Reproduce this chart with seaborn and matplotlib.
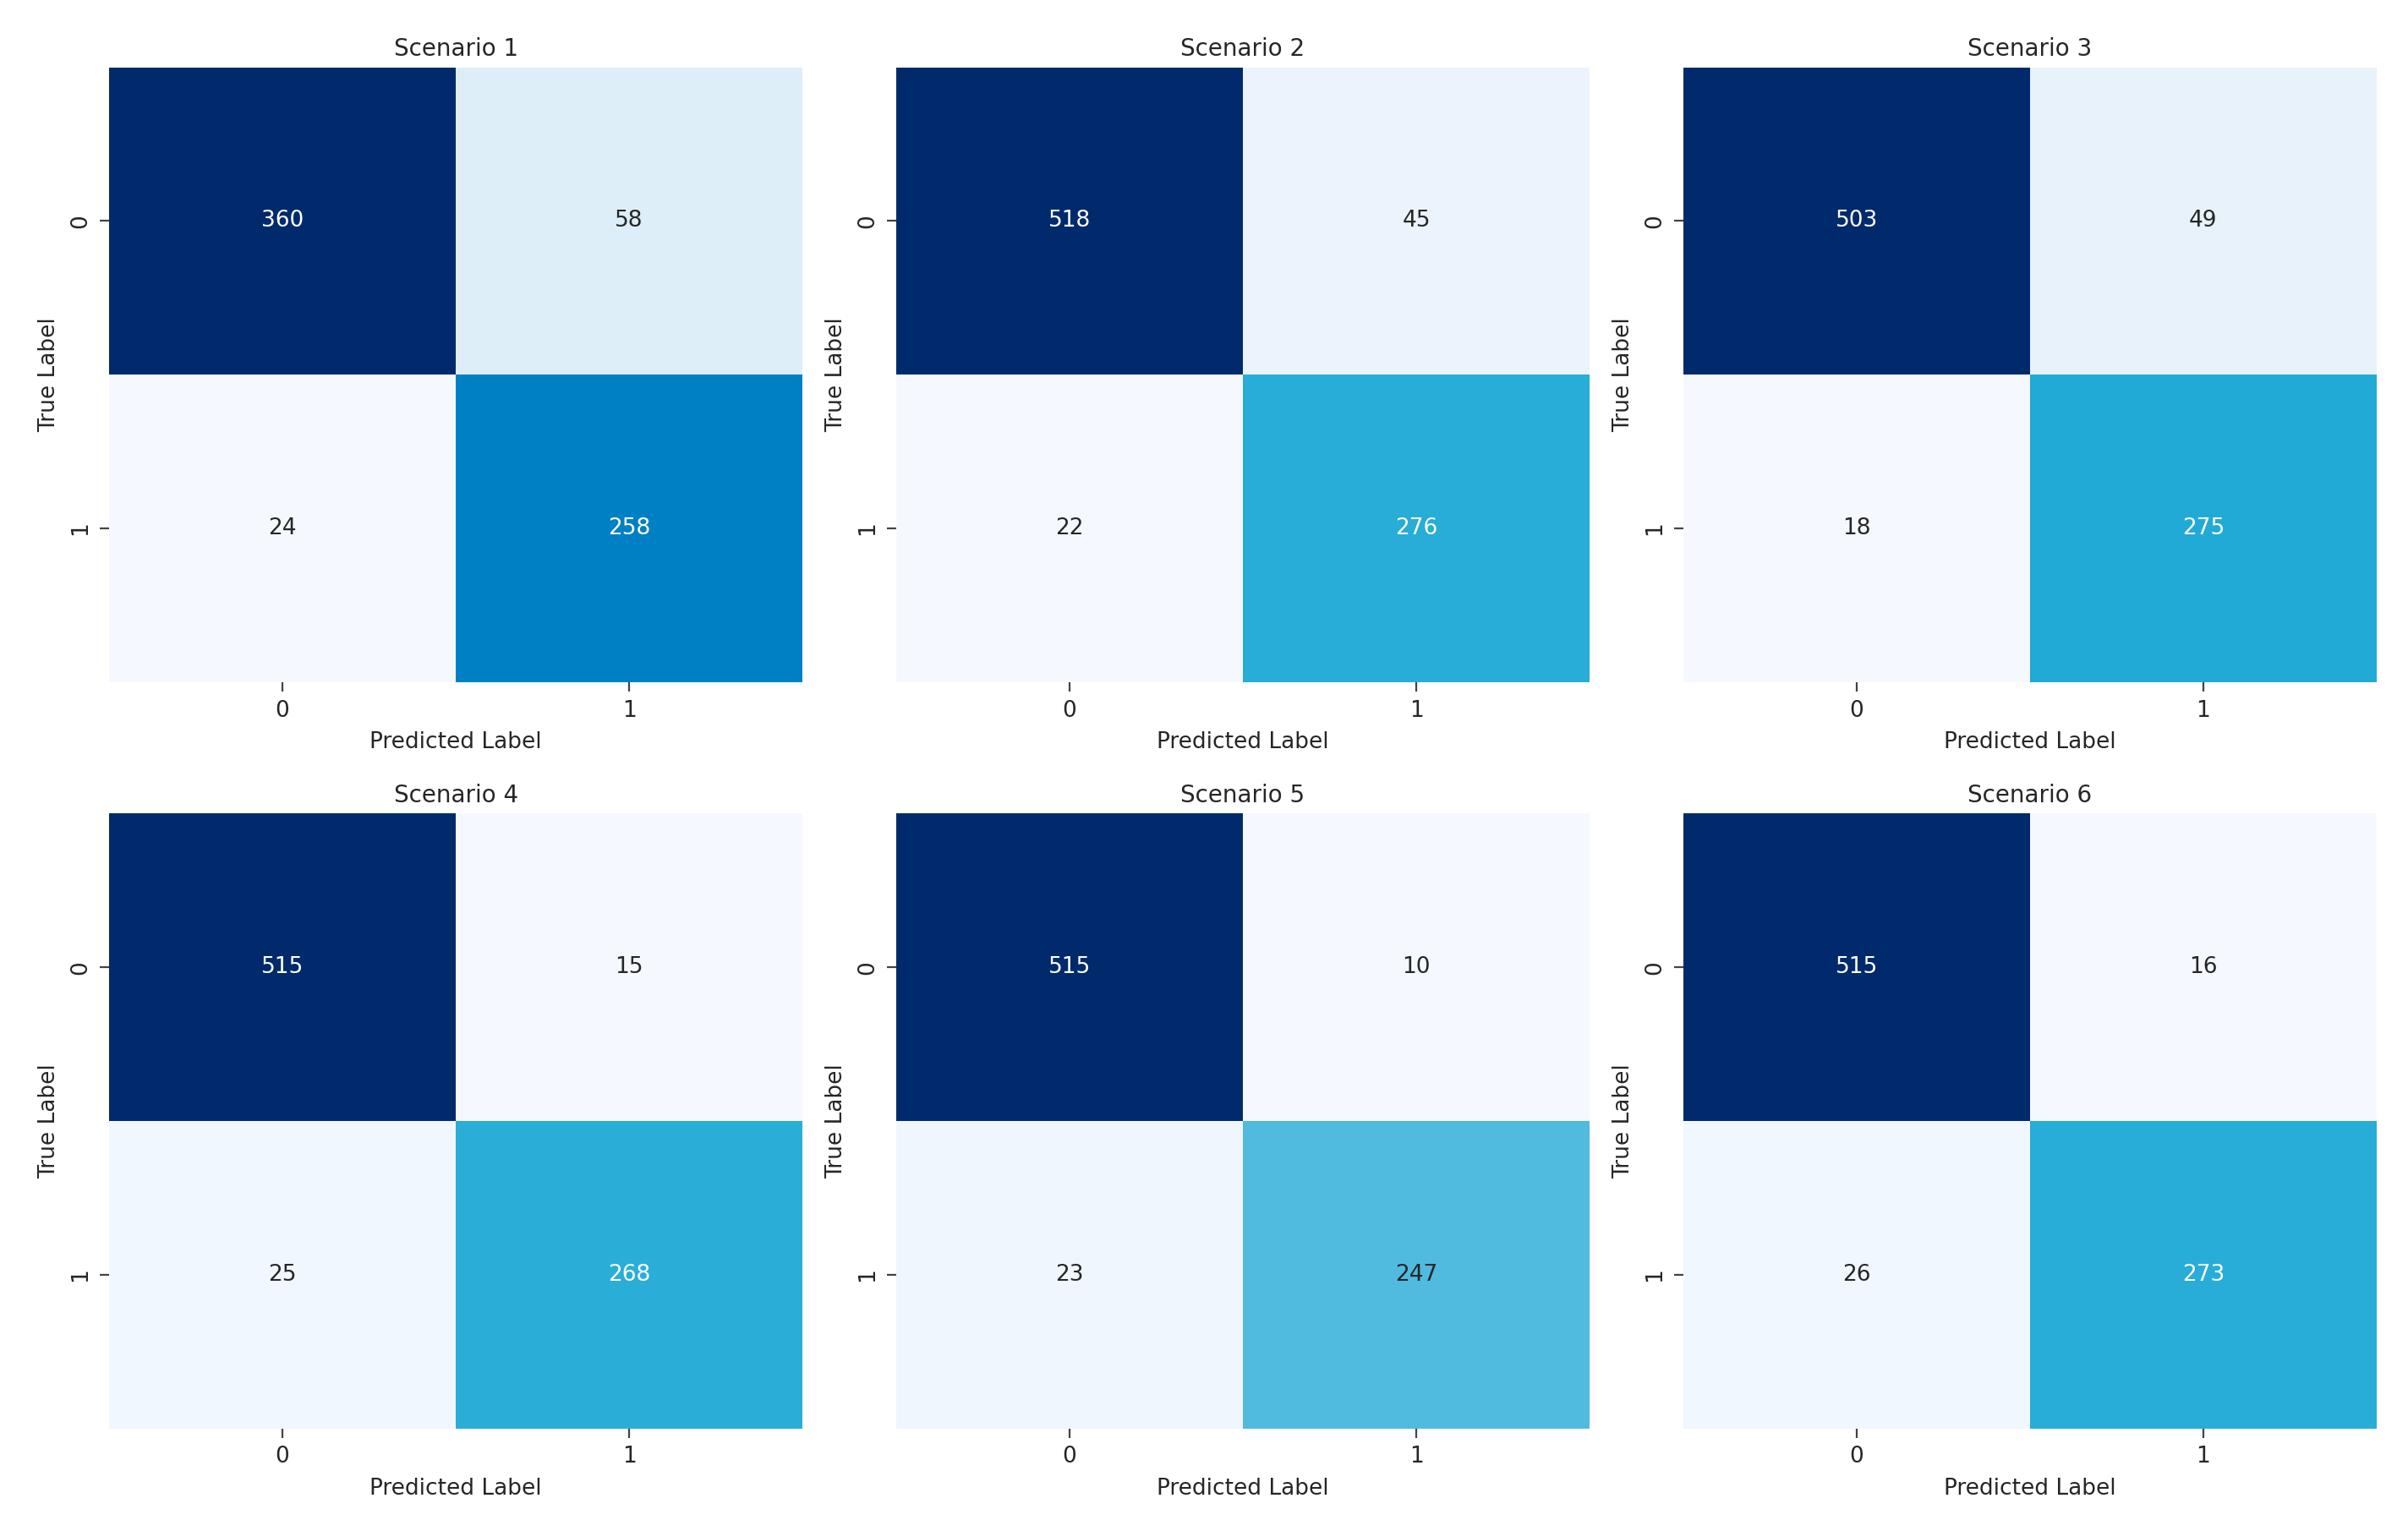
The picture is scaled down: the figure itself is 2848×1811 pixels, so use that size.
import numpy as np
import matplotlib
matplotlib.use("Agg")
import matplotlib.pyplot as plt
from matplotlib.colors import LinearSegmentedColormap
import seaborn as sns

### ---------------- DATA ---------------- ###
scenario_names = ["Scenario 1", "Scenario 2", "Scenario 3",
                  "Scenario 4", "Scenario 5", "Scenario 6"]
class_labels = ["0", "1"]

cm_scenario_1 = [[360, 58], [24, 258]]
cm_scenario_2 = [[518, 45], [22, 276]]
cm_scenario_3 = [[503, 49], [18, 275]]
cm_scenario_4 = [[515, 15], [25, 268]]
cm_scenario_5 = [[515, 10], [23, 247]]
cm_scenario_6 = [[515, 16], [26, 273]]

matrices = [cm_scenario_1, cm_scenario_2, cm_scenario_3,
            cm_scenario_4, cm_scenario_5, cm_scenario_6]

# blue map close to the one in the picture (more cyan in the middle than plain Blues)
blue_map = LinearSegmentedColormap.from_list("conf_blues", [
    (0.0, "#f5f9ff"),
    (0.1, "#deeef8"),
    (0.3, "#a3d6ee"),
    (0.47, "#52badf"),
    (0.505, "#2aaed8"),
    (0.53, "#22aad6"),
    (0.7, "#0080c4"),
    (1.0, "#002a6b"),
])

sns.set_style("white")
plt.rcParams["font.family"] = ["DejaVu Sans"]

fig, axes = plt.subplots(2, 3, figsize=(14.24, 9.055), dpi=200)
fig.subplots_adjust(left=0.0453, right=0.987, top=0.956, bottom=0.067,
                    wspace=0.135, hspace=0.214)

for ax, name, cm in zip(axes.flat, scenario_names, matrices):
    sns.heatmap(np.array(cm), annot=True, fmt="d", cmap=blue_map, cbar=False,
                xticklabels=class_labels, yticklabels=class_labels, ax=ax,
                annot_kws={"fontsize": 9.5})
    ax.set_title(name, fontsize=10, pad=5)
    ax.set_xlabel("Predicted Label", fontsize=9.5)
    ax.set_ylabel("True Label", fontsize=9.5)
    ax.tick_params(axis="both", length=4, width=0.8, color="#444444",
                   labelsize=9.5, bottom=True, left=True)
    plt.setp(ax.get_yticklabels(), rotation=90, va="center")

fig.savefig("out.png", dpi=200)
